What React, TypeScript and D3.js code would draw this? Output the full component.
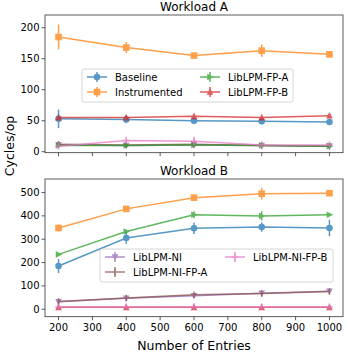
import * as d3 from "d3";

const entries = [200, 400, 600, 800, 1000];
const xTicks = [200, 300, 400, 500, 600, 700, 800, 900, 1000];

// workload A
const aBaseline = [53, 52, 50, 49, 48];
const aBaselineErr = [15, 6, 3, 2, 2];
const aInstr = [185, 168, 155, 163, 157];
const aInstrErr = [20, 9, 3, 10, 3];
const aFpA = [10, 10, 11, 10, 9];
const aFpAErr = [3, 2, 3, 2, 2];
const aFpB = [55, 55, 57, 55, 58];
const aFpBErr = [3, 4, 4, 4, 4];
const aNi = [11, 10, 11, 10, 9];
const aNiErr = [2, 2, 2, 2, 2];
const aNiFpA = [12, 11, 12, 10, 9];
const aNiFpAErr = [2, 2, 2, 2, 2];
const aNiFpB = [9, 18, 17, 11, 11];
const aNiFpBErr = [2, 5, 7, 2, 2];

// workload B
const bBaseline = [185, 305, 347, 352, 348];
const bBaselineErr = [30, 25, 25, 20, 35];
const bInstr = [348, 430, 478, 495, 497];
const bInstrErr = [15, 8, 8, 25, 5];
const bFpA = [235, 333, 405, 400, 405];
const bFpAErr = [5, 8, 15, 20, 4];
const bFpB = [8, 8, 8, 8, 8];
const bFpBErr = [2, 2, 2, 2, 2];
const bNi = [32, 47, 58, 68, 77];
const bNiErr = [4, 4, 5, 4, 4];
const bNiFpA = [33, 48, 62, 67, 76];
const bNiFpAErr = [4, 4, 8, 4, 4];
const bNiFpB = [10, 10, 10, 10, 10];
const bNiFpBErr = [2, 2, 2, 2, 2];

const aTicks = [0, 50, 100, 150, 200];
const bTicks = [0, 100, 200, 300, 400, 500];

const FONT = "DejaVu Sans, sans-serif";

type Series = { name: string; color: string; marker: string; y: number[]; err: number[] };

const seriesA: Series[] = [
  { name: "LibLPM-NI", color: "#9467bd", marker: "v", y: aNi, err: aNiErr },
  { name: "LibLPM-NI-FP-A", color: "#8c564b", marker: "|", y: aNiFpA, err: aNiFpAErr },
  { name: "LibLPM-FP-A", color: "#2ca02c", marker: ">", y: aFpA, err: aFpAErr },
  { name: "LibLPM-NI-FP-B", color: "#e377c2", marker: "+", y: aNiFpB, err: aNiFpBErr },
  { name: "Baseline", color: "#1f77b4", marker: "o", y: aBaseline, err: aBaselineErr },
  { name: "Instrumented", color: "#ff7f0e", marker: "s", y: aInstr, err: aInstrErr },
  { name: "LibLPM-FP-B", color: "#d62728", marker: "^", y: aFpB, err: aFpBErr },
];

const seriesB: Series[] = [
  { name: "Baseline", color: "#1f77b4", marker: "o", y: bBaseline, err: bBaselineErr },
  { name: "Instrumented", color: "#ff7f0e", marker: "s", y: bInstr, err: bInstrErr },
  { name: "LibLPM-FP-A", color: "#2ca02c", marker: ">", y: bFpA, err: bFpAErr },
  { name: "LibLPM-NI", color: "#9467bd", marker: "v", y: bNi, err: bNiErr },
  { name: "LibLPM-NI-FP-A", color: "#8c564b", marker: "|", y: bNiFpA, err: bNiFpAErr },
  { name: "LibLPM-FP-B", color: "#d62728", marker: "^", y: bFpB, err: bFpBErr },
  { name: "LibLPM-NI-FP-B", color: "#e377c2", marker: "+", y: bNiFpB, err: bNiFpBErr },
];

const legendA = [
  ["Baseline", "LibLPM-FP-A"],
  ["Instrumented", "LibLPM-FP-B"],
];
const legendB = [
  ["LibLPM-NI", "LibLPM-NI-FP-B"],
  ["LibLPM-NI-FP-A", ""],
];

const allSeries = [...seriesA];

const Marker = ({ kind, x, y, color }: { kind: string; x: number; y: number; color: string }) => {
  const r = 3.3;
  if (kind === "o") return <circle cx={x} cy={y} r={r} fill={color} />;
  if (kind === "s") return <rect x={x - r} y={y - r} width={2 * r} height={2 * r} fill={color} />;
  const tri = (pts: number[][]) => (
    <polygon points={pts.map((p) => `${x + p[0]},${y + p[1]}`).join(" ")} fill={color} />
  );
  if (kind === "^") return tri([[0, -r - 0.5], [r, r - 0.5], [-r, r - 0.5]]);
  if (kind === "v") return tri([[0, r + 0.5], [r, -r + 0.5], [-r, -r + 0.5]]);
  if (kind === ">") return tri([[r + 0.5, 0], [-r + 0.5, r], [-r + 0.5, -r]]);
  if (kind === "+")
    return (
      <path d={`M${x - r},${y}H${x + r}M${x},${y - r}V${y + r}`} stroke={color} strokeWidth={1.5} />
    );
  return <path d={`M${x},${y - r}V${y + r}`} stroke={color} strokeWidth={1.5} />;
};

const left = 45;
const right = 343;
const x = d3.scaleLinear().domain([160, 1040]).range([left, right]);

const Panel = ({
  top,
  bottom,
  domain,
  ticks,
  title,
  series,
  legend,
  legendBox,
  showXLabels,
}: {
  top: number;
  bottom: number;
  domain: [number, number];
  ticks: number[];
  title: string;
  series: Series[];
  legend: string[][];
  legendBox: { x: number; y: number; w: number; h: number; col2: number };
  showXLabels: boolean;
}) => {
  const y = d3.scaleLinear().domain(domain).range([bottom, top]);
  const line = d3
    .line<number>()
    .x((_, i) => x(entries[i]))
    .y((d) => y(d));
  const lookup = (n: string) => series.find((s) => s.name === n) || allSeries.find((s) => s.name === n)!;
  return (
    <g>
      <text x={(left + right) / 2} y={top - 4} textAnchor="middle" fontSize={12} fontFamily={FONT}>
        {title}
      </text>
      {series.map((s) => (
        <g key={s.name} opacity={0.75}>
          <path d={line(s.y) || ""} fill="none" stroke={s.color} strokeWidth={1.5} />
          {s.y.map((v, i) => (
            <line
              key={i}
              x1={x(entries[i])}
              x2={x(entries[i])}
              y1={y(v - s.err[i])}
              y2={y(v + s.err[i])}
              stroke={s.color}
              strokeWidth={1.5}
            />
          ))}
          {s.y.map((v, i) => (
            <Marker key={"m" + i} kind={s.marker} x={x(entries[i])} y={y(v)} color={s.color} />
          ))}
        </g>
      ))}
      <rect
        x={left}
        y={top}
        width={right - left}
        height={bottom - top}
        fill="none"
        stroke="#333"
        strokeWidth={0.8}
      />
      {ticks.map((t) => (
        <g key={t}>
          <line x1={left - 3.5} x2={left} y1={y(t)} y2={y(t)} stroke="#333" strokeWidth={0.8} />
          <text
            x={left - 5.5}
            y={y(t)}
            dy="0.35em"
            textAnchor="end"
            fontSize={10}
            fontFamily={FONT}
          >
            {t}
          </text>
        </g>
      ))}
      {xTicks.map((t) => (
        <g key={t}>
          <line x1={x(t)} x2={x(t)} y1={bottom} y2={bottom + 3.5} stroke="#333" strokeWidth={0.8} />
          {showXLabels && (
            <text x={x(t)} y={bottom + 14} textAnchor="middle" fontSize={10} fontFamily={FONT}>
              {t}
            </text>
          )}
        </g>
      ))}
      <rect
        x={legendBox.x}
        y={legendBox.y}
        width={legendBox.w}
        height={legendBox.h}
        fill="white"
        fillOpacity={0.8}
        stroke="#ccc"
        strokeWidth={0.8}
        rx={2}
      />
      {legend.map((row, ri) =>
        row.map((name, ci) => {
          if (!name) return null;
          const s = lookup(name);
          const lx = ci === 0 ? legendBox.x + 5 : legendBox.col2;
          const ly = legendBox.y + 8 + ri * 15;
          return (
            <g key={name}>
              <g opacity={0.75}>
                <line x1={lx} x2={lx + 20} y1={ly} y2={ly} stroke={s.color} strokeWidth={1.5} />
                <line x1={lx + 10} x2={lx + 10} y1={ly - 5} y2={ly + 5} stroke={s.color} strokeWidth={1.5} />
                <Marker kind={s.marker} x={lx + 10} y={ly} color={s.color} />
              </g>
              <text x={lx + 28} y={ly} dy="0.35em" fontSize={10} fontFamily={FONT}>
                {name}
              </text>
            </g>
          );
        })
      )}
    </g>
  );
};

export default function App() {
  return (
    <svg width={348} height={357} style={{ display: "block", position: "absolute", left: 0, top: 0 }}>
      <rect width={348} height={357} fill="white" />
      <Panel
        top={15}
        bottom={152.7}
        domain={[-1.6, 220.5]}
        ticks={aTicks}
        title="Workload A"
        series={seriesA}
        legend={legendA}
        legendBox={{ x: 82, y: 69, w: 211, h: 33, col2: 200 }}
        showXLabels={false}
      />
      <Panel
        top={179}
        bottom={316.7}
        domain={[-32, 558]}
        ticks={bTicks}
        title="Workload B"
        series={seriesB}
        legend={legendB}
        legendBox={{ x: 100, y: 249, w: 233, h: 33, col2: 225 }}
        showXLabels={true}
      />
      <text
        transform="translate(14,146) rotate(-90)"
        textAnchor="middle"
        fontSize={12.5}
        fontFamily={FONT}
      >
        Cycles/op
      </text>
      <text x={194} y={350} textAnchor="middle" fontSize={12.5} fontFamily={FONT}>
        Number of Entries
      </text>
    </svg>
  );
}
